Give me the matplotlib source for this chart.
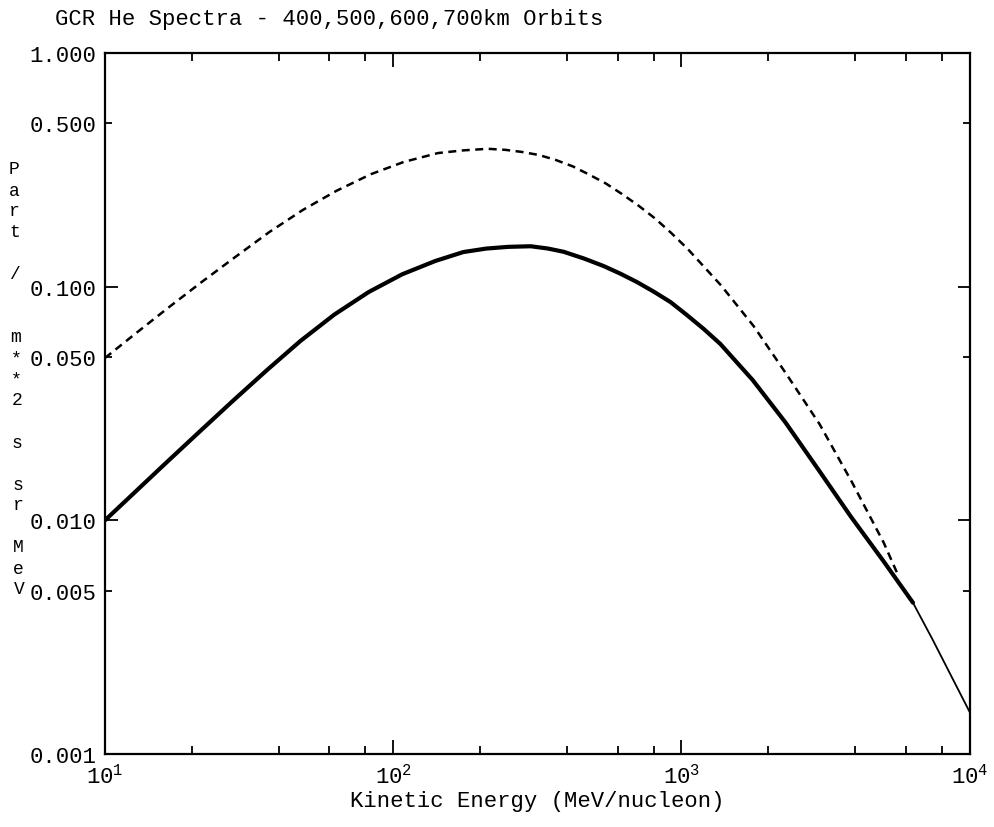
import numpy as np
import matplotlib
matplotlib.use('Agg')
import matplotlib.pyplot as plt
from matplotlib.ticker import FixedLocator, FixedFormatter, FuncFormatter, NullFormatter

plt.rcParams['font.family'] = ['Liberation Mono', 'DejaVu Sans Mono']
plt.rcParams['mathtext.fontset'] = 'custom'
plt.rcParams['mathtext.rm'] = 'Liberation Mono'
plt.rcParams['mathtext.it'] = 'Liberation Mono'

# dashed spectrum (MeV/nucleon, part/m**2 s sr MeV)
e_dash = [10, 12.5, 16.4, 21.5, 28.1, 37.1, 48.6, 63.5, 83.7, 109, 143, 175, 213, 245,
          280, 320, 365, 420, 475, 545, 622, 710, 809, 920, 1051, 1374, 1781, 2307,
          3013, 3898, 5035, 5650]
f_dash = [0.0495, 0.0617, 0.0804, 0.104, 0.133, 0.171, 0.213, 0.257, 0.303, 0.342,
          0.373, 0.383, 0.389, 0.385, 0.377, 0.366, 0.349, 0.327, 0.303, 0.277, 0.249,
          0.222, 0.196, 0.170, 0.145, 0.101, 0.0677, 0.0424, 0.0258, 0.0146, 0.0080,
          0.0058]

# solid spectra (overlapping orbits)
e_solid = [10, 12.2, 16.1, 21.1, 27.6, 36.4, 47.7, 62.4, 82.2, 107.5, 140, 175, 210,
           250, 300, 345, 391, 460, 537, 615, 700, 800, 916, 1040, 1191, 1363, 1767,
           2291, 2993, 3873, 5023, 6353, 7430, 8490, 10000]
f_solid = [0.0100, 0.01259, 0.01738, 0.02371, 0.03221, 0.04385, 0.05861, 0.07586,
           0.09484, 0.1130, 0.1288, 0.1406, 0.1455, 0.1480, 0.1489, 0.1455, 0.1409,
           0.1318, 0.1225, 0.1135, 0.1047, 0.0953, 0.0859, 0.0759, 0.0661, 0.0569,
           0.0398, 0.0263, 0.0164, 0.01035, 0.00668, 0.00444, 0.00309, 0.00224, 0.00151]

y_major = [1.0, 0.1, 0.01, 0.001]
y_minor = [0.5, 0.05, 0.005]
x_major = [10, 100, 1000, 10000]
x_minor = [20, 40, 60, 80, 200, 400, 600, 800, 2000, 4000, 6000, 8000]

# stacked y label characters
ylab_chars = ['P', 'a', 'r', 't', '/', 'm', '*', '*', '2', 's', 's', 'r', 'M', 'e', 'V']
ylab_rows = [0, 1, 2, 3, 5, 8, 9, 10, 11, 13, 15, 16, 18, 19, 20]

fig = plt.figure(figsize=(9.94, 8.28), dpi=100)
ax = fig.add_axes([0.1056, 0.0882, 0.870, 0.8466])

n_thick = 32
ax.plot(e_solid[:n_thick], f_solid[:n_thick], color='black', lw=3.0,
        solid_capstyle='round', solid_joinstyle='round')
ax.plot(e_solid[n_thick - 1:], f_solid[n_thick - 1:], color='black', lw=1.3)
ax.plot(e_dash, f_dash, color='black', lw=1.8, dashes=(3.2, 2.2))

ax.set_xscale('log')
ax.set_yscale('log')
ax.set_xlim(10, 10000)
ax.set_ylim(0.001, 1.0)

ax.xaxis.set_major_locator(FixedLocator(x_major))
ax.xaxis.set_major_formatter(FuncFormatter(lambda v, p: r'$\mathregular{10^{%d}}$' % round(np.log10(v))))
ax.xaxis.set_minor_locator(FixedLocator(x_minor))
ax.xaxis.set_minor_formatter(NullFormatter())

ax.yaxis.set_major_locator(FixedLocator(y_major))
ax.yaxis.set_major_formatter(FixedFormatter(['%.3f' % v for v in y_major]))
ax.yaxis.set_minor_locator(FixedLocator(y_minor))
ax.yaxis.set_minor_formatter(FixedFormatter(['%.3f' % v for v in y_minor]))

ax.tick_params(which='both', direction='in', top=True, right=True, width=1.3,
               labelsize=16, colors='black')
ax.tick_params(axis='x', which='major', length=10, pad=7)
ax.tick_params(axis='x', which='minor', length=6)
ax.tick_params(axis='y', which='major', length=9, pad=6)
ax.tick_params(axis='y', which='minor', length=5, pad=6)
for s in ax.spines.values():
    s.set_linewidth(1.6)

ax.set_xlabel('Kinetic Energy (MeV/nucleon)', fontsize=16, labelpad=2)

fig.text(55 / 994, 1 - 20 / 828, 'GCR He Spectra - 400,500,600,700km Orbits',
         fontsize=16, ha='left', va='center')

for ch, row in zip(ylab_chars, ylab_rows):
    yp = 170 + 21 * row
    fig.text((14 + row * 0.25) / 994, 1 - yp / 828, ch, fontsize=13,
             ha='center', va='center')

fig.savefig('out.png', dpi=100, facecolor='white')
